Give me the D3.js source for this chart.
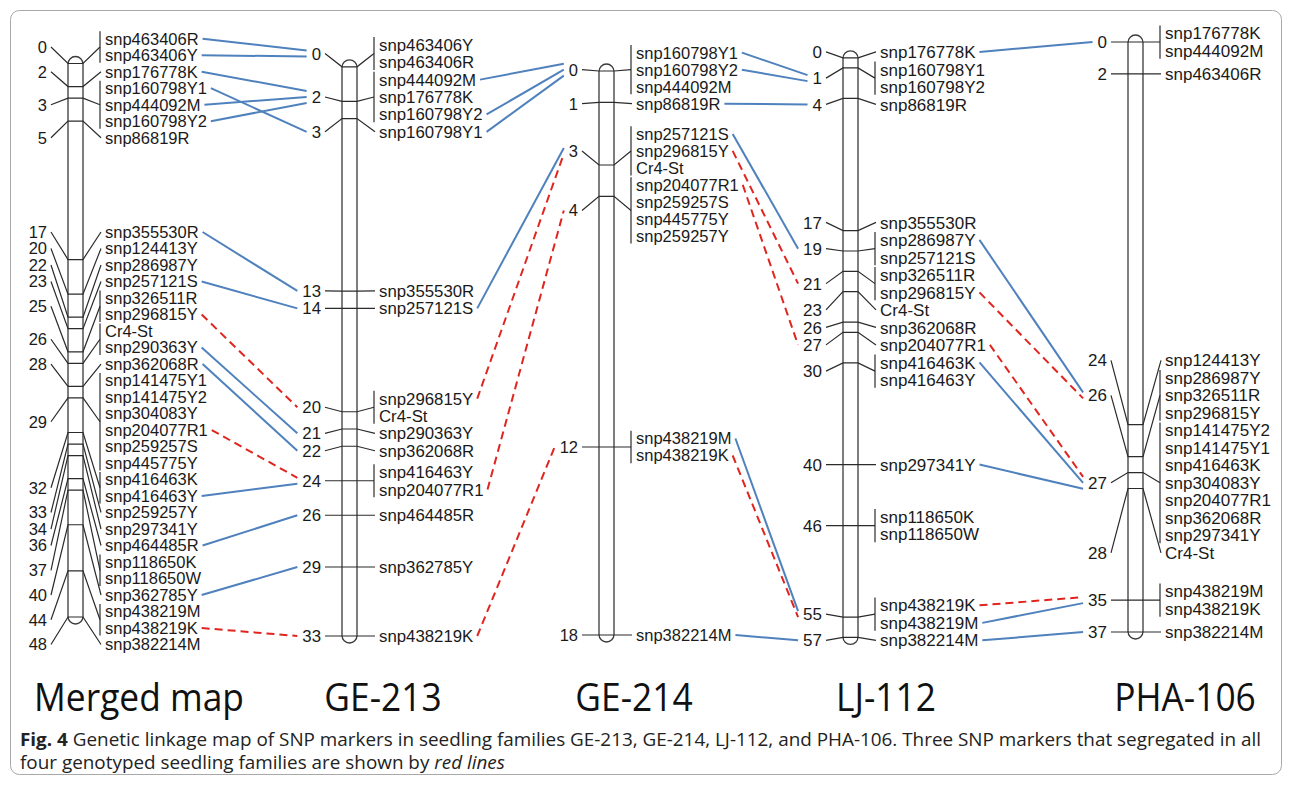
<!DOCTYPE html>
<html><head><meta charset="utf-8">
<script src="https://cdn.jsdelivr.net/npm/d3@7"></script>
<style>body{margin:0;background:#fff}svg{display:block}</style>
</head><body>
<svg id="chart" width="1290" height="787"></svg>
<script>
// ---------------- DATA ----------------
const mapNames = ["Merged map", "GE-213", "GE-214", "LJ-112", "PHA-106"];

const mergedPos = [0, 2, 3, 5, 17, 20, 22, 23, 25, 26, 28, 29, 32, 33, 34, 36, 37, 40, 44, 48];
const mergedMarkers = [
  ["snp463406R", "snp463406Y"], ["snp176778K"], ["snp160798Y1", "snp444092M", "snp160798Y2"], ["snp86819R"],
  ["snp355530R"], ["snp124413Y"], ["snp286987Y"], ["snp257121S"], ["snp326511R", "snp296815Y"],
  ["Cr4-St", "snp290363Y"], ["snp362068R"],
  ["snp141475Y1", "snp141475Y2", "snp304083Y", "snp204077R1", "snp259257S", "snp445775Y"],
  ["snp416463K", "snp416463Y"], ["snp259257Y"], ["snp297341Y"], ["snp464485R"], ["snp118650K", "snp118650W"],
  ["snp362785Y"], ["snp438219M", "snp438219K"], ["snp382214M"]
];

const ge213Pos = [0, 2, 3, 13, 14, 20, 21, 22, 24, 26, 29, 33];
const ge213Markers = [
  ["snp463406Y", "snp463406R"], ["snp444092M", "snp176778K", "snp160798Y2"], ["snp160798Y1"], ["snp355530R"],
  ["snp257121S"], ["snp296815Y", "Cr4-St"], ["snp290363Y"], ["snp362068R"], ["snp416463Y", "snp204077R1"],
  ["snp464485R"], ["snp362785Y"], ["snp438219K"]
];

const ge214Pos = [0, 1, 3, 4, 12, 18];
const ge214Markers = [
  ["snp160798Y1", "snp160798Y2", "snp444092M"], ["snp86819R"], ["snp257121S", "snp296815Y", "Cr4-St"],
  ["snp204077R1", "snp259257S", "snp445775Y", "snp259257Y"], ["snp438219M", "snp438219K"], ["snp382214M"]
];

const lj112Pos = [0, 1, 4, 17, 19, 21, 23, 26, 27, 30, 40, 46, 55, 57];
const lj112Markers = [
  ["snp176778K"], ["snp160798Y1", "snp160798Y2"], ["snp86819R"], ["snp355530R"], ["snp286987Y", "snp257121S"],
  ["snp326511R", "snp296815Y"], ["Cr4-St"], ["snp362068R"], ["snp204077R1"], ["snp416463K", "snp416463Y"],
  ["snp297341Y"], ["snp118650K", "snp118650W"], ["snp438219K", "snp438219M"], ["snp382214M"]
];

const pha106Pos = [0, 2, 24, 26, 27, 28, 35, 37];
const pha106Markers = [
  ["snp176778K", "snp444092M"], ["snp463406R"], ["snp124413Y"], ["snp286987Y", "snp326511R", "snp296815Y"],
  ["snp141475Y2", "snp141475Y1", "snp416463K", "snp304083Y", "snp204077R1", "snp362068R", "snp297341Y"],
  ["Cr4-St"], ["snp438219M", "snp438219K"], ["snp382214M"]
];

// markers linked between adjacent maps
const links01 = ["snp463406R", "snp463406Y", "snp176778K", "snp160798Y1", "snp444092M", "snp160798Y2", "snp355530R",
  "snp257121S", "snp296815Y", "snp290363Y", "snp362068R", "snp204077R1", "snp416463Y", "snp464485R", "snp362785Y", "snp438219K"];
const links12 = ["snp444092M", "snp160798Y2", "snp160798Y1", "snp257121S", "snp296815Y", "snp204077R1", "snp438219K"];
const links23 = ["snp160798Y1", "snp160798Y2", "snp86819R", "snp257121S", "snp296815Y", "snp204077R1", "snp438219M", "snp438219K", "snp382214M"];
const links34 = ["snp176778K", "snp286987Y", "snp296815Y", "snp204077R1", "snp416463K", "snp297341Y", "snp438219K", "snp438219M", "snp382214M"];
// markers segregating in all four families (red lines)
const commonMarkers = ["snp296815Y", "snp204077R1", "snp438219K"];

const captionBold = "Fig. 4";
const captionLine1 = " Genetic linkage map of SNP markers in seedling families GE-213, GE-214, LJ-112, and PHA-106. Three SNP markers that segregated in all";
const captionLine2 = "four genotyped seedling families are shown by ";
const captionItalic = "red lines";

// ---------------- LAYOUT ----------------
const maps = [
  { name: mapNames[0], pos: mergedPos, markers: mergedMarkers },
  { name: mapNames[1], pos: ge213Pos, markers: ge213Markers },
  { name: mapNames[2], pos: ge214Pos, markers: ge214Markers },
  { name: mapNames[3], pos: lj112Pos, markers: lj112Markers },
  { name: mapNames[4], pos: pha106Pos, markers: pha106Markers }
];
const layout = [
  { barX: 68,   y0: 63.5, y1: 617,   font: 16.5, rowH: 16.5, titleX: 139 },
  { barX: 342,  y0: 66.8, y1: 636,   font: 16.8, rowH: 17.4, titleX: 383 },
  { barX: 599,  y0: 71,   y1: 635,   font: 16.5, rowH: 17,   titleX: 634 },
  { barX: 843,  y0: 57.8, y1: 637.4, font: 17,   rowH: 17.5, titleX: 886 },
  { barX: 1128, y0: 42,   y1: 632,   font: 17,   rowH: 17.5, titleX: 1185 }
];
const TITLE_SCALE_X = 0.93;
const BAR_W = 15;
const LABEL_FONT = "'Liberation Sans', Arial, Helvetica, sans-serif";
const TITLE_FONT = "'Open Sans', 'Liberation Sans', sans-serif";
const INK = "#2b2b2b";
const BLUE = "#4f81bd";
const RED = "#e0251f";

const svg = d3.select("#chart");
svg.append("rect").attr("width", 1290).attr("height", 787).attr("fill", "#fff");
svg.append("rect").attr("x", 10.5).attr("y", 10.5).attr("width", 1271).attr("height", 764)
  .attr("rx", 9).attr("fill", "none").attr("stroke", "#a8a8a8").attr("stroke-width", 1);

// 1-D label layout: groups keep order, clusters centred on their desired span
function layoutRows(desired, sizes, rowH) {
  const n = desired.length;
  const clusters = d3.range(n).map(i => ({ a: i, b: i }));
  const place = c => {
    let rows = 0;
    for (let i = c.a; i <= c.b; i++) rows += sizes[i];
    const firstDes = desired[c.a] - (sizes[c.a] - 1) / 2 * rowH;
    const lastDes = desired[c.b] + (sizes[c.b] - 1) / 2 * rowH;
    c.rows = rows;
    c.top = (firstDes + lastDes) / 2 - (rows - 1) / 2 * rowH;
  };
  clusters.forEach(place);
  let again = true;
  while (again) {
    again = false;
    for (let k = 0; k < clusters.length - 1; k++) {
      const A = clusters[k], B = clusters[k + 1];
      if (A.top + A.rows * rowH > B.top + 1e-6) {
        A.b = B.b; clusters.splice(k + 1, 1); place(A); again = true; break;
      }
    }
  }
  const out = new Array(n);
  clusters.forEach(c => {
    let y = c.top;
    for (let i = c.a; i <= c.b; i++) {
      out[i] = d3.range(sizes[i]).map(j => y + j * rowH);
      y += sizes[i] * rowH;
    }
  });
  return out;
}

const gMaps = svg.append("g");
const info = [];

maps.forEach((m, mi) => {
  const L = layout[mi];
  const y = d3.scaleLinear().domain([0, d3.max(m.pos)]).range([L.y0, L.y1]);
  const g = gMaps.append("g");
  const barL = L.barX, barR = L.barX + BAR_W;
  const nameX = barR + 22, bracketX = barR + 17;

  g.append("rect").attr("x", barL).attr("y", y(0) - 7).attr("width", BAR_W)
    .attr("height", y(d3.max(m.pos)) - y(0) + 14).attr("rx", BAR_W / 2)
    .attr("fill", "#fff").attr("stroke", "#3a3a3a").attr("stroke-width", 1.3);

  const rows = layoutRows(m.pos.map(p => y(p)), m.markers.map(a => a.length), L.rowH);
  const mInfo = { markers: {}, groups: [] };

  m.pos.forEach((p, gi) => {
    const py = y(p);
    const r = rows[gi];
    const cy = (r[0] + r[r.length - 1]) / 2;
    const multi = r.length > 1;
    const endX = multi ? bracketX : nameX - 4;
    g.append("path")
      .attr("d", d3.line()([[barL - 17, cy], [barL, py], [barR, py], [endX, cy]]))
      .attr("fill", "none").attr("stroke", INK).attr("stroke-width", 1.2);
    if (multi) {
      g.append("line").attr("x1", bracketX).attr("x2", bracketX)
        .attr("y1", r[0] - L.rowH * 0.45).attr("y2", r[r.length - 1] + L.rowH * 0.45)
        .attr("stroke", INK).attr("stroke-width", 1.2);
    }
    const num = g.append("text").attr("x", barL - 21).attr("y", cy).attr("dy", "0.36em")
      .attr("text-anchor", "end").attr("font-family", LABEL_FONT).attr("font-size", L.font)
      .attr("fill", "#1a1a1a").text(p);
    const numW = num.node().getComputedTextLength();
    const grp = { cy, numLeft: barL - 21 - numW };
    mInfo.groups.push(grp);
    m.markers[gi].forEach((name, j) => {
      const t = g.append("text").attr("x", nameX).attr("y", r[j]).attr("dy", "0.36em")
        .attr("font-family", LABEL_FONT).attr("font-size", L.font).attr("fill", "#1a1a1a").text(name);
      mInfo.markers[name] = { rowY: r[j], textEnd: nameX + t.node().getComputedTextLength(), group: grp };
    });
  });
  info.push(mInfo);

  // title
  svg.append("text").attr("font-family", TITLE_FONT).attr("font-size", 38)
    .attr("fill", "#111").attr("text-anchor", "middle")
    .attr("transform", `translate(${L.titleX},711) scale(${TITLE_SCALE_X},1)`)
    .text(m.name);
});

// ---------------- LINKS ----------------
const gLinks = svg.append("g");
[links01, links12, links23, links34].forEach((list, li) => {
  const A = info[li], B = info[li + 1];
  const items = list.map(name => ({ name, s: A.markers[name], t: B.markers[name].group }));
  const byTarget = d3.group(items, d => d.t);
  byTarget.forEach(arr => {
    arr.sort((a, b) => a.s.rowY - b.s.rowY);
    arr.forEach((d, k) => { d.off = (k - (arr.length - 1) / 2) * 6; });
  });
  items.forEach(d => {
    const red = commonMarkers.includes(d.name);
    gLinks.append("line")
      .attr("x1", d.s.textEnd + 4).attr("y1", d.s.rowY)
      .attr("x2", d.t.numLeft - 5).attr("y2", d.t.cy + d.off)
      .attr("stroke", red ? RED : BLUE).attr("stroke-width", 2)
      .attr("stroke-dasharray", red ? "8,5" : null);
  });
});

// ---------------- CAPTION ----------------
const CAP_FONT = "'Open Sans', 'Liberation Sans', sans-serif";
const cap1 = svg.append("text").attr("font-family", CAP_FONT).attr("font-size", 18).attr("fill", "#222");
cap1.append("tspan").attr("font-weight", "bold").text(captionBold);
cap1.append("tspan").text(captionLine1);
const w1 = cap1.node().getComputedTextLength();
const sx = 1242 / w1;
cap1.attr("transform", `translate(20,746) scale(${sx},1)`);
const cap2 = svg.append("text").attr("font-family", CAP_FONT).attr("font-size", 18).attr("fill", "#222")
  .attr("transform", `translate(20,769) scale(${sx},1)`);
cap2.append("tspan").text(captionLine2);
cap2.append("tspan").attr("font-style", "italic").text(captionItalic);
</script>
</body></html>
